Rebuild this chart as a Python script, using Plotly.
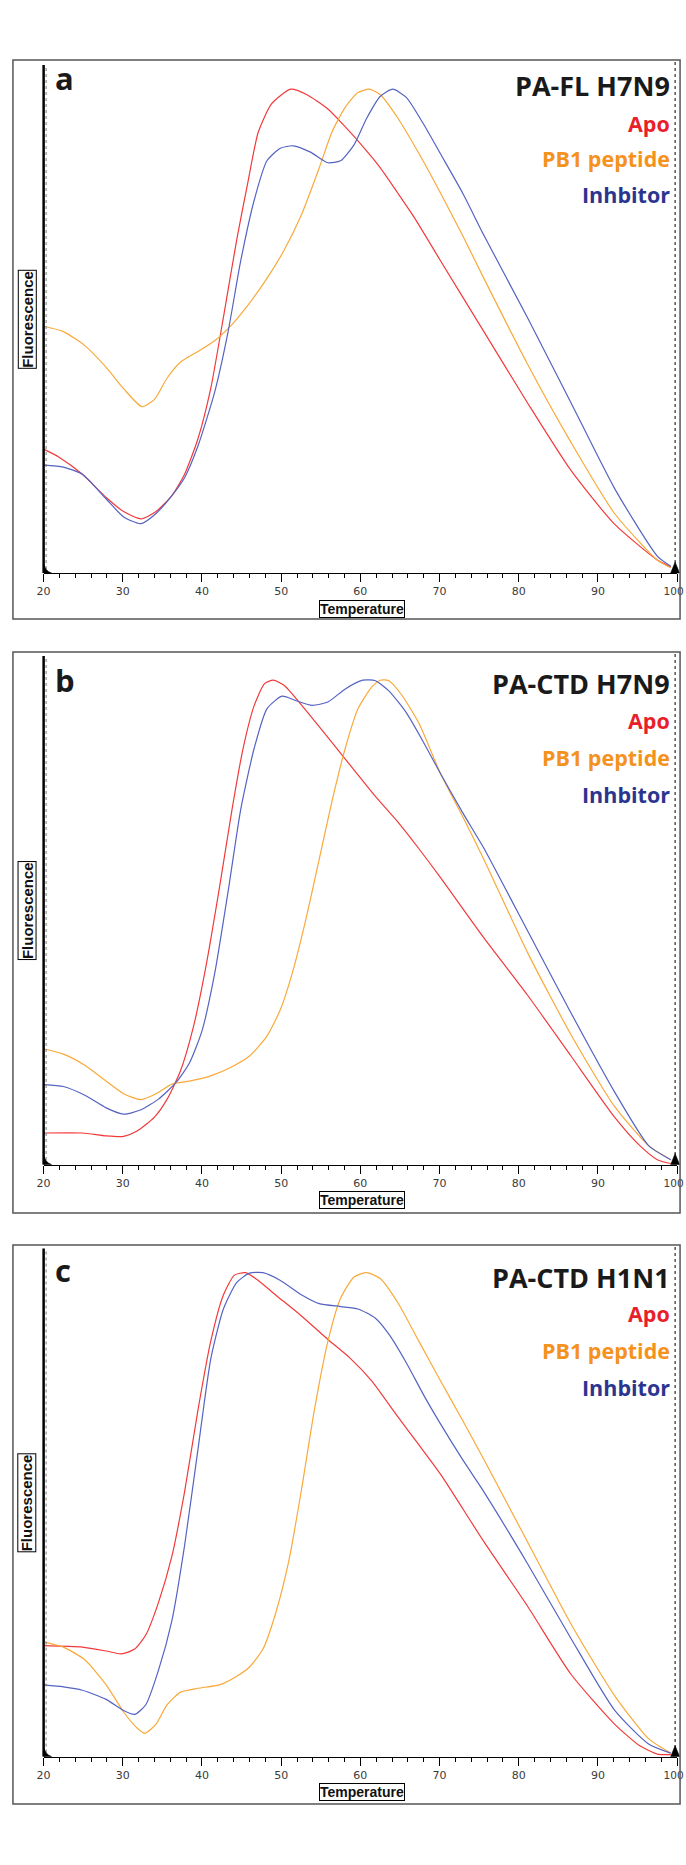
import plotly.graph_objects as go

W, H = 686, 1865

# ---------------- data (temperature °C, normalised fluorescence) ----------------
# Panel a: PA-FL H7N9
a_apo_t = [20, 21.9, 24.9, 27.9, 30.1, 32.3, 34.2, 36.2, 37.8, 39.5, 41.1, 42.7, 44.4, 45.8, 47.1, 48.8, 51.2, 53.2, 55.9, 58.1, 60.3, 62.5, 64.7, 66.8, 70.1, 75.6, 81.1, 86.6, 92.1, 97.5, 99.2]
a_apo_v = [0.256, 0.24, 0.204, 0.156, 0.127, 0.112, 0.127, 0.16, 0.204, 0.278, 0.381, 0.528, 0.69, 0.808, 0.911, 0.97, 1.0, 0.989, 0.959, 0.922, 0.882, 0.838, 0.786, 0.735, 0.646, 0.499, 0.352, 0.212, 0.101, 0.027, 0.013]
a_pb1_t = [20, 22.5, 25.2, 27.9, 30.1, 32.4, 34.0, 35.6, 37.3, 39.5, 41.6, 43.8, 46.0, 48.2, 50.4, 52.6, 54.8, 56.4, 58.1, 59.7, 61.1, 62.5, 64.7, 67.4, 70.1, 72.9, 75.6, 81.1, 86.6, 92.1, 97.5, 99.2]
a_pb1_v = [0.51, 0.499, 0.47, 0.425, 0.381, 0.344, 0.359, 0.403, 0.436, 0.458, 0.48, 0.514, 0.558, 0.609, 0.668, 0.742, 0.837, 0.911, 0.963, 0.993, 1.0, 0.989, 0.941, 0.867, 0.786, 0.698, 0.609, 0.432, 0.27, 0.123, 0.027, 0.011]
a_inh_t = [20, 22.5, 24.9, 27.9, 30.1, 32.3, 34.2, 36.2, 37.8, 39.5, 41.6, 43.3, 44.9, 46.6, 48.2, 49.9, 51.5, 53.7, 55.9, 57.5, 59.2, 60.8, 62.5, 64.1, 65.8, 67.9, 70.1, 72.9, 75.6, 81.1, 86.6, 92.1, 97.5, 99.2]
a_inh_v = [0.223, 0.219, 0.204, 0.153, 0.116, 0.102, 0.123, 0.16, 0.197, 0.263, 0.374, 0.499, 0.646, 0.771, 0.852, 0.878, 0.883, 0.87, 0.848, 0.852, 0.885, 0.94, 0.985, 1.0, 0.983, 0.93, 0.867, 0.786, 0.698, 0.528, 0.352, 0.175, 0.035, 0.014]

# Panel b: PA-CTD H7N9
b_apo_t = [20, 24.9, 27.9, 30.1, 31.8, 34.0, 35.6, 37.3, 38.9, 40.5, 42.2, 43.8, 45.2, 46.6, 47.9, 49.0, 50.4, 52.6, 54.8, 58.1, 61.9, 64.7, 67.4, 70.1, 75.6, 81.1, 86.6, 92.1, 95.3, 97.5, 99.2]
b_apo_v = [0.065, 0.065, 0.059, 0.058, 0.069, 0.098, 0.135, 0.194, 0.283, 0.409, 0.571, 0.734, 0.86, 0.948, 0.993, 1.0, 0.989, 0.948, 0.904, 0.837, 0.76, 0.708, 0.652, 0.593, 0.468, 0.35, 0.224, 0.098, 0.039, 0.01, 0.002]
b_pb1_t = [20, 22.5, 25.2, 27.9, 30.1, 32.3, 34.2, 36.2, 38.4, 41.1, 43.8, 46.0, 48.2, 49.9, 51.5, 53.2, 54.8, 56.4, 58.1, 59.7, 61.4, 62.5, 63.6, 65.2, 67.4, 70.1, 72.9, 75.6, 81.1, 86.6, 92.1, 96.4, 99.2]
b_pb1_v = [0.239, 0.228, 0.205, 0.172, 0.146, 0.134, 0.146, 0.166, 0.172, 0.183, 0.202, 0.224, 0.265, 0.32, 0.401, 0.512, 0.63, 0.749, 0.86, 0.941, 0.985, 1.0, 0.999, 0.97, 0.911, 0.808, 0.719, 0.63, 0.438, 0.268, 0.12, 0.039, 0.01]
b_inh_t = [20, 22.5, 25.2, 27.9, 30.1, 32.3, 34.5, 36.7, 38.4, 40.0, 41.6, 43.3, 44.9, 46.6, 48.2, 50.1, 52.0, 53.9, 55.9, 58.1, 60.3, 61.9, 63.6, 65.8, 67.9, 70.1, 72.9, 75.6, 81.1, 86.6, 92.1, 96.4, 99.2]
b_inh_v = [0.165, 0.161, 0.143, 0.117, 0.104, 0.113, 0.135, 0.169, 0.209, 0.276, 0.394, 0.564, 0.734, 0.86, 0.941, 0.967, 0.957, 0.948, 0.955, 0.982, 1.0, 0.999, 0.978, 0.933, 0.874, 0.808, 0.727, 0.653, 0.483, 0.313, 0.15, 0.039, 0.01]

# Panel c: PA-CTD H1N1
c_apo_t = [20, 24.9, 27.9, 29.8, 31.5, 32.9, 34.5, 36.2, 37.8, 39.5, 41.1, 42.7, 44.1, 45.5, 47.1, 49.3, 52.6, 55.9, 58.6, 61.4, 64.7, 67.4, 70.1, 75.6, 81.1, 86.6, 92.1, 95.3, 97.5, 99.2]
c_apo_v = [0.229, 0.226, 0.218, 0.212, 0.222, 0.251, 0.318, 0.414, 0.547, 0.717, 0.858, 0.954, 0.995, 1.0, 0.984, 0.954, 0.91, 0.862, 0.825, 0.777, 0.703, 0.644, 0.584, 0.444, 0.311, 0.17, 0.067, 0.022, 0.005, 0.004]
c_pb1_t = [20, 22.5, 25.2, 27.9, 30.1, 31.8, 32.8, 34.2, 35.6, 37.3, 39.5, 42.2, 44.4, 46.0, 47.7, 49.3, 51.0, 52.6, 54.2, 55.9, 57.5, 59.2, 60.8, 62.5, 64.7, 67.4, 70.1, 72.9, 75.6, 81.1, 86.6, 92.1, 96.4, 99.2]
c_pb1_v = [0.237, 0.226, 0.2, 0.148, 0.092, 0.059, 0.048, 0.067, 0.107, 0.133, 0.141, 0.148, 0.166, 0.185, 0.222, 0.296, 0.407, 0.555, 0.717, 0.858, 0.947, 0.991, 1.0, 0.988, 0.939, 0.858, 0.777, 0.695, 0.614, 0.444, 0.274, 0.126, 0.037, 0.007]
c_inh_t = [20, 22.5, 24.9, 27.9, 30.1, 31.5, 32.9, 34.5, 36.2, 37.8, 39.5, 41.1, 42.7, 44.4, 46.0, 47.7, 49.9, 52.6, 54.8, 57.5, 59.7, 61.9, 63.6, 65.8, 68.0, 70.1, 72.9, 75.6, 81.1, 86.6, 92.1, 96.4, 99.2]
c_inh_v = [0.148, 0.144, 0.137, 0.118, 0.095, 0.087, 0.107, 0.178, 0.281, 0.436, 0.636, 0.821, 0.925, 0.98, 0.999, 1.0, 0.984, 0.954, 0.936, 0.93, 0.925, 0.906, 0.873, 0.814, 0.747, 0.688, 0.614, 0.547, 0.399, 0.244, 0.096, 0.026, 0.007]

panel_letters = ["a", "b", "c"]
panel_titles = ["PA-FL H7N9", "PA-CTD H7N9", "PA-CTD H1N1"]
series_names = ["Apo", "PB1 peptide", "Inhbitor"]
tick_values = [20, 30, 40, 50, 60, 70, 80, 90, 100]
tick_labels = ["20", "30", "40", "50", "60", "70", "80", "90", "100"]
x_title = "Temperature"
y_title = "Fluorescence"

panels = [
    [(a_apo_t, a_apo_v), (a_pb1_t, a_pb1_v), (a_inh_t, a_inh_v)],
    [(b_apo_t, b_apo_v), (b_pb1_t, b_pb1_v), (b_inh_t, b_inh_v)],
    [(c_apo_t, c_apo_v), (c_pb1_t, c_pb1_v), (c_inh_t, c_inh_v)],
]

# ---------------- styling ----------------
line_colors = ["#f23a3a", "#f9a93a", "#5563c2"]
text_colors = ["#e8202a", "#f5921e", "#2b3590"]
tick_font = dict(family="DejaVu Sans", size=11, color="#3a3a3a")
last_tick_font = dict(family="DejaVu Sans", size=10.5, color="#3a3a3a")

# pixel layout (from top of page)
plot_left, plot_right = 37, 677
axis_top = [65, 656, 1248.5]
axis_bottom = [573, 1164.5, 1756.5]
frame_top = [60, 652, 1245]
frame_bottom = [619, 1213, 1804]
frame_left, frame_right = 6, 680
letter_mid = [78, 680, 1270]
title_mid = [85, 683, 1277]
legend_mid = [[123.5, 159, 195], [720.5, 757, 794], [1313.5, 1350, 1387]]
last_label_shift_px = -3.5   # keep the last tick label inside the page


def px(x):
    return x / W


def py(y):
    return 1 - y / H


fig = go.Figure()
shapes = []
annotations = []
x0, x1 = tick_values[0], tick_values[-1]
deg_per_px = (x1 - x0) / (plot_right - plot_left)

for i, series in enumerate(panels):
    sfx = "" if i == 0 else str(i + 1)
    xa, ya = "x" + sfx, "y" + sfx
    for j, (t, v) in enumerate(series):
        fig.add_trace(go.Scatter(
            x=t, y=v, mode="lines", name=series_names[j],
            line=dict(color=line_colors[j], width=1.2, shape="spline", smoothing=0.6),
            xaxis=xa, yaxis=ya, showlegend=False, hoverinfo="skip"))

    # main x axis: last label drawn separately so it stays inside the page
    fig.layout["xaxis" + sfx] = dict(
        domain=[px(plot_left), px(plot_right)], range=[x0, x1], anchor=ya,
        showgrid=False, zeroline=False, showline=True, linecolor="black", linewidth=1,
        ticks="outside", ticklen=8, tickwidth=1, tickcolor="black",
        tickvals=tick_values, ticktext=tick_labels[:-1] + [""],
        tickfont=tick_font,
        minor=dict(ticks="outside", ticklen=4, tickwidth=1, tickcolor="black", dtick=2, tick0=20),
        fixedrange=True)
    fig.layout["yaxis" + sfx] = dict(
        domain=[py(axis_bottom[i]), py(axis_top[i])], range=[0, 1.05], anchor=xa,
        visible=False, fixedrange=True)

    # overlay strip on the same temperature scale for the last tick label
    k = str(4 + i)
    fig.layout["xaxis" + k] = dict(
        domain=[px(plot_left), px(plot_right)], range=[x0, x1],
        anchor="y" + k, visible=False, fixedrange=True)
    fig.layout["yaxis" + k] = dict(
        domain=[py(axis_bottom[i] + 30), py(axis_bottom[i] + 9)], range=[0, 1],
        anchor="x" + k, visible=False, fixedrange=True)
    fig.add_trace(go.Scatter(
        x=[tick_values[-1] + last_label_shift_px * deg_per_px], y=[0.5], mode="text",
        text=[tick_labels[-1]], textposition="middle center", textfont=last_tick_font,
        cliponaxis=False, xaxis="x" + k, yaxis="y" + k, showlegend=False, hoverinfo="skip"))

    # left axis: thick black line + dotted grey companion
    shapes.append(dict(type="line", xref="paper", yref="paper",
                       x0=px(plot_left), x1=px(plot_left), y0=py(axis_top[i]), y1=py(axis_bottom[i]),
                       line=dict(color="black", width=2.5), layer="above"))
    shapes.append(dict(type="line", xref="paper", yref="paper",
                       x0=px(plot_left + 2.5), x1=px(plot_left + 2.5), y0=py(axis_top[i] + 3), y1=py(axis_bottom[i]),
                       line=dict(color="#777777", width=1, dash="dot"), layer="above"))
    # right dotted marker line
    shapes.append(dict(type="line", xref="paper", yref="paper",
                       x0=px(675), x1=px(675), y0=py(frame_top[i] + 2), y1=py(axis_bottom[i]),
                       line=dict(color="black", width=1, dash="dot"), layer="above"))
    # small black markers at the base
    yb = axis_bottom[i]
    shapes.append(dict(type="path", xref="paper", yref="paper", layer="above",
                       path=f"M {px(37)} {py(yb)} L {px(37)} {py(yb - 10)} Q {px(38.5)} {py(yb - 2)} {px(45)} {py(yb)} Z",
                       fillcolor="black", line=dict(color="black", width=0.5)))
    shapes.append(dict(type="path", xref="paper", yref="paper", layer="above",
                       path=f"M {px(670.5)} {py(yb)} L {px(675)} {py(yb - 11)} L {px(679.5)} {py(yb)} Z",
                       fillcolor="black", line=dict(color="black", width=0.5)))

    # axis titles (boxed)
    annotations.append(dict(text=x_title, xref="paper", yref="paper", x=px(359), y=py(axis_bottom[i] + 35.5),
                            xanchor="center", yanchor="middle", showarrow=False,
                            font=dict(family="Liberation Sans", size=14, color="#111111", weight="bold"),
                            bordercolor="black", borderwidth=1, borderpad=0, bgcolor="white"))
    annotations.append(dict(text=y_title, xref="paper", yref="paper", x=px(20),
                            y=py((axis_top[i] + axis_bottom[i]) / 2), textangle=-90,
                            xanchor="center", yanchor="middle", showarrow=False,
                            font=dict(family="Liberation Sans", size=15, color="#111111", weight="bold"),
                            bordercolor="black", borderwidth=1, borderpad=0, bgcolor="white"))
    # panel letter
    annotations.append(dict(text=panel_letters[i], xref="paper", yref="paper", x=px(46), y=py(letter_mid[i]),
                            xanchor="left", yanchor="middle", showarrow=False,
                            font=dict(family="Open Sans", size=31, color="#1a1a1a", weight="bold")))
    # title + legend text (right aligned)
    annotations.append(dict(text=panel_titles[i], xref="paper", yref="paper", x=px(672), y=py(title_mid[i]),
                            xanchor="right", yanchor="middle", showarrow=False,
                            font=dict(family="Open Sans", size=27, color="#1a1a1a", weight="bold")))
    for j in range(3):
        annotations.append(dict(text=series_names[j], xref="paper", yref="paper", x=px(672), y=py(legend_mid[i][j]),
                                xanchor="right", yanchor="middle", showarrow=False,
                                font=dict(family="Open Sans", size=21.5, color=text_colors[j], weight="bold")))

for i in range(3):
    shapes.append(dict(type="rect", xref="paper", yref="paper",
                       x0=px(frame_left), x1=px(frame_right), y0=py(frame_bottom[i]), y1=py(frame_top[i]),
                       line=dict(color="#555555", width=1.5), fillcolor="rgba(0,0,0,0)", layer="above"))

fig.update_layout(width=W, height=H, margin=dict(l=0, r=0, t=0, b=0),
                  paper_bgcolor="white", plot_bgcolor="rgba(0,0,0,0)",
                  shapes=shapes, annotations=annotations, showlegend=False)

fig.write_html(
    "out.html", config={"responsive": False, "displayModeBar": False},
    post_script="document.body.style.margin='0';document.body.style.overflow='hidden';")
